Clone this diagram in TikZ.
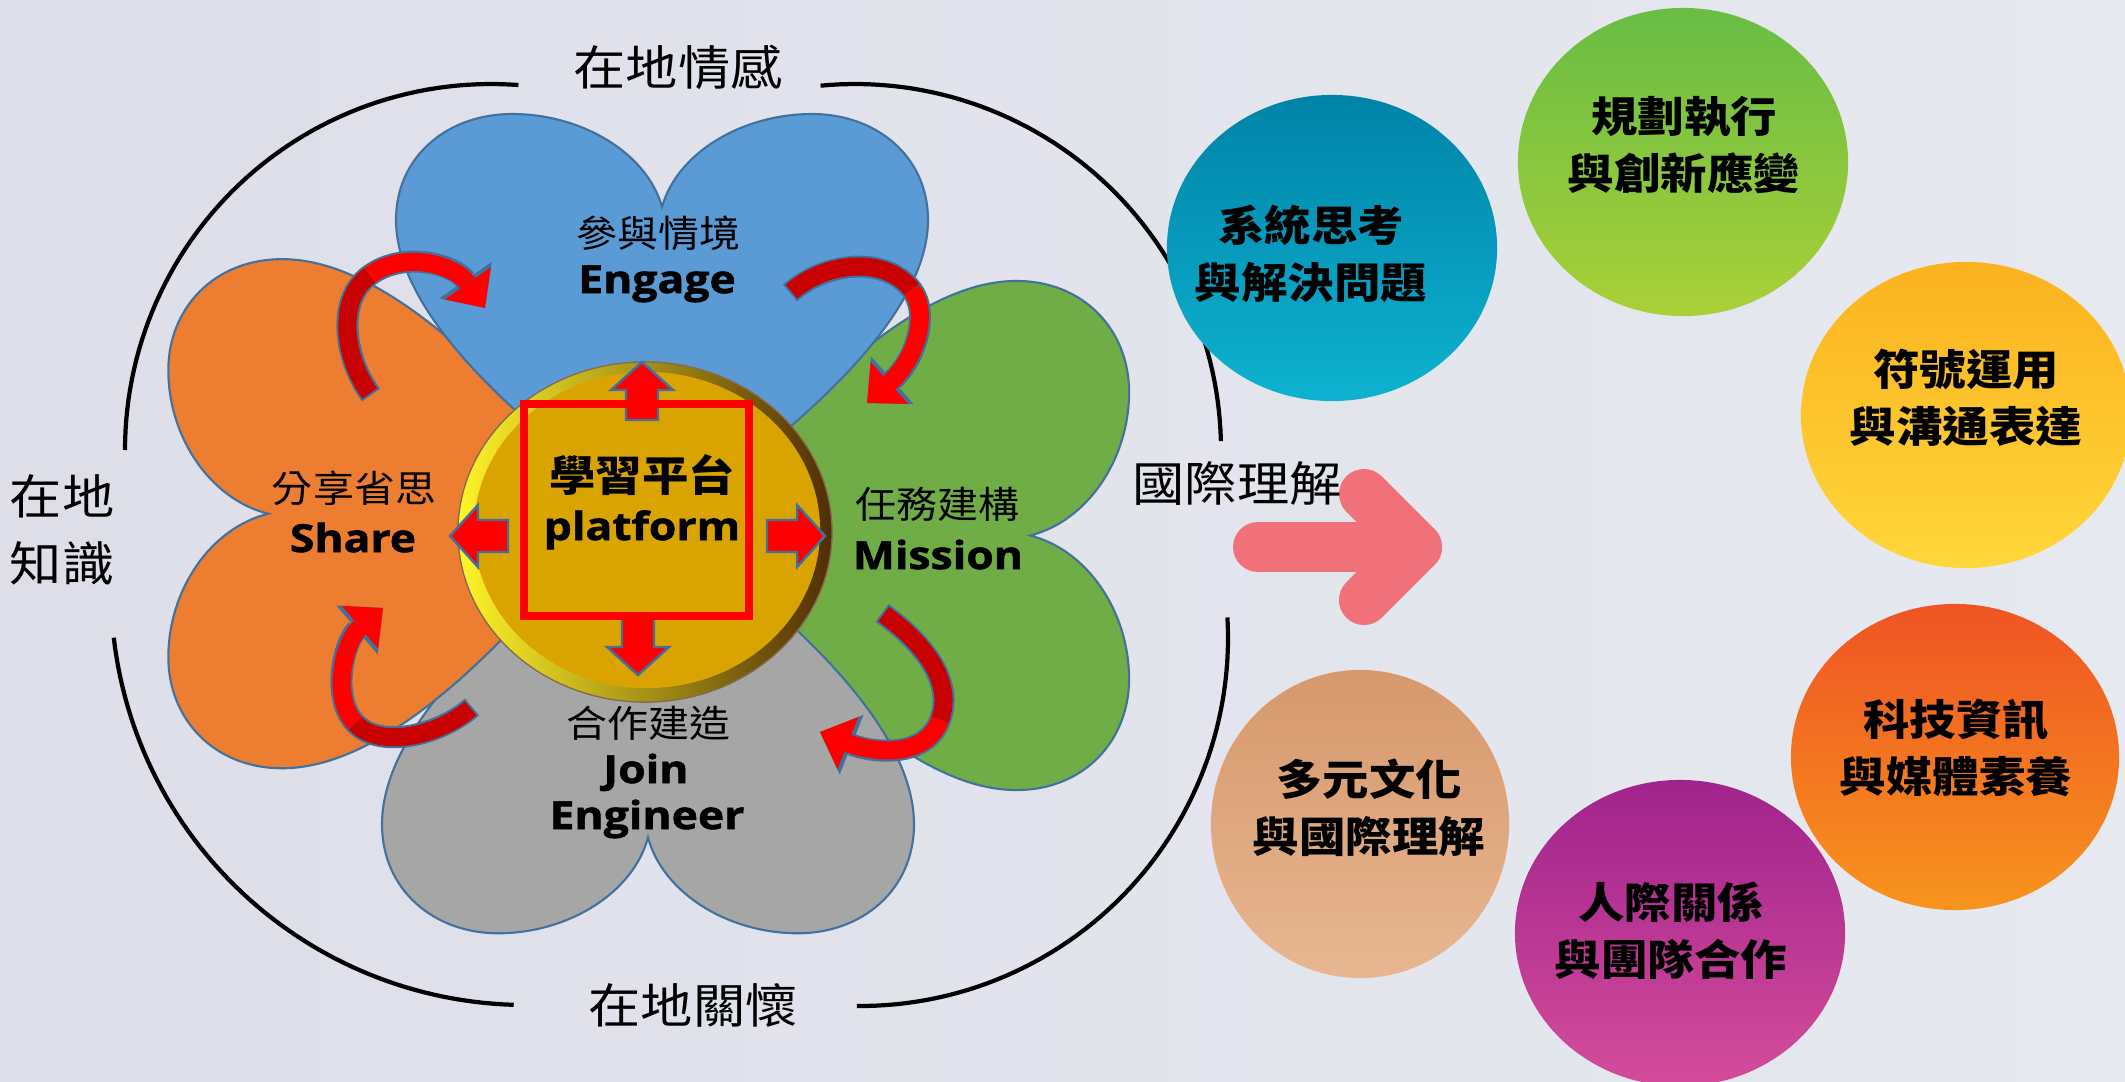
\documentclass[tikz,border=0pt]{standalone}
\usepackage{fontspec}
\usepackage{tikz}
\usetikzlibrary{shapes.geometric,arrows.meta}
\newfontfamily\zhfont{Noto Sans CJK TC}[FakeStretch=1.1]
\newfontfamily\enfont{Open Sans}[FakeStretch=1.15,BoldFeatures={FakeBold=1.5}]
\definecolor{bgleft}{RGB}{221,222,232}
\definecolor{bgright}{RGB}{231,233,240}
\definecolor{petalline}{RGB}{65,113,156}
\definecolor{petalblue}{RGB}{91,155,213}
\definecolor{petalgreen}{RGB}{112,173,71}
\definecolor{petalgray}{RGB}{166,166,166}
\definecolor{petalorange}{RGB}{237,125,49}
\definecolor{hubgold}{RGB}{218,164,0}
\definecolor{rimlight}{RGB}{255,245,40}
\definecolor{rimdark}{RGB}{80,45,5}
\definecolor{darkred}{RGB}{200,0,0}
\definecolor{pinkarrow}{RGB}{240,113,121}
\tikzstyle{ring}=[draw=black, line width=1.2pt]
\tikzstyle{petal}=[draw=petalline, line width=0.6pt]
\tikzstyle{outerlabel}=[font=\zhfont\fontsize{13.5}{19}\selectfont, inner sep=0pt, align=center]
\tikzstyle{petalzh}=[font=\zhfont\fontsize{10.6}{12}\selectfont, inner sep=0pt]
\tikzstyle{petalen}=[font=\enfont\bfseries\fontsize{11}{13}\selectfont, inner sep=0pt, anchor=base]
\tikzstyle{hubzh}=[font=\zhfont\bfseries\fontsize{12}{14}\selectfont, inner sep=0pt]
\tikzstyle{blockarr}=[fill=red, draw=petalline, line width=0.7pt]
\tikzstyle{swirlline}=[draw=petalline, line width=0.22cm, -{Triangle[length=0.34cm,width=0.64cm,line width=0pt]}]
\tikzstyle{bubble}=[ellipse, inner sep=0pt, draw=none]
\tikzstyle{bubbletext}=[font=\zhfont\bfseries\fontsize{12}{16.3}\selectfont, align=center, inner sep=0pt]
\tikzstyle{pinkline}=[draw=pinkarrow, line width=0.5cm, line cap=round, line join=round]
\newcommand{\drawpetal}[5]{%
	\filldraw[petal, fill=#5, shift={#1}, rotate=#2, xscale=#3, yscale=#4]
		(0,0) .. controls (-90,-60) and (-266,-190) .. (-266,-303)
		.. controls (-266,-367) and (-214,-409) .. (-150,-409)
		.. controls (-80,-409) and (-15,-370) .. (0,-316)
		.. controls (15,-370) and (80,-409) .. (150,-409)
		.. controls (214,-409) and (266,-367) .. (266,-303)
		.. controls (266,-190) and (90,-60) .. (0,0) -- cycle;}
\newcommand{\drawswirl}[7]{%
	\draw[swirlline] #1 .. controls #2 and #3 .. #4 .. controls #5 and #6 .. #7;
	\draw[line width=0.18cm, darkred, shorten <=0.02cm] #1 .. controls #2 and #3 .. #4;
	\draw[line width=0.18cm, red, -{Triangle[length=0.3cm,width=0.56cm,line width=0pt]}] #4 .. controls #5 and #6 .. #7;}
\newcommand{\drawblock}[2]{%
	\draw[blockarr, shift={#1}, rotate=#2] (0,0) -- (31,28) -- (16,28) -- (16,58) -- (-16,58) -- (-16,28) -- (-31,28) -- cycle;}
\begin{document}
\begin{tikzpicture}[x=0.01cm, y=-0.01cm]
				%The background
				\useasboundingbox (0,0) rectangle (2125,1081);
				\fill[left color=bgleft, right color=bgright] (0,0) rectangle (2125,1081);
				
				%The outer ring
				\draw[ring] plot[domain=180:274.3, samples=60] ({491+366*cos(\x)}, {450+366*sin(\x)});
				\draw[ring] plot[domain=264.6:358.6, samples=60] ({855+366*cos(\x)}, {450+366*sin(\x)});
				\draw[ring] plot[domain=-3.2:90.5, samples=60] ({860+368*cos(\x)}, {638+368*sin(\x)});
				\draw[ring] plot[domain=91.7:173.4, samples=60] ({526+415*cos(\x)}, {590+415*sin(\x)});
				
				\draw (678,67) node[outerlabel] (feel) {在地情感};
				\draw (62,530) node[outerlabel] (know) {在地\\知識};
				\draw (693,1006) node[outerlabel] (care) {在地關懷};
				
				%The petals
				\drawpetal{(693.5,535.5)}{-90}{0.957}{1.065}{petalgreen}
				\drawpetal{(648,512)}{180}{1}{1.03}{petalgray}
				\drawpetal{(608,513.7)}{90}{0.957}{1.075}{petalorange}
				\drawpetal{(662,523)}{0}{1}{1}{petalblue}
				
				%The turning arrows
				\drawswirl{(371,395)}{(345,360)}{(335,300)}{(370,275)}{(405,250)}{(455,265)}{(485,308)}
				\drawswirl{(790,293)}{(825,262)}{(885,255)}{(912,290)}{(930,315)}{(915,360)}{(867,403)}
				\drawswirl{(882,613)}{(920,640)}{(955,680)}{(940,720)}{(925,760)}{(870,752)}{(820,732)}
				\drawswirl{(472,707)}{(440,735)}{(380,750)}{(355,723)}{(330,696)}{(345,640)}{(383,608)}
				
				%The hub
				\draw (645,532) node[ellipse, inner sep=0pt, minimum width=3.74cm, minimum height=3.4cm, draw=rimdark!70, line width=0.4pt, left color=rimlight, middle color=hubgold, right color=rimdark] (hub) {};
				\draw (647,530) node[ellipse, inner sep=0pt, minimum width=3.46cm, minimum height=3.16cm, fill=hubgold] (hubface) {};
				\drawblock{(642,362)}{0}
				\drawblock{(638,675)}{180}
				\drawblock{(450,536)}{90}
				\drawblock{(825,536)}{-90}
				\draw (636.5,510) node[draw=red, line width=0.08cm, inner sep=0pt, minimum width=2.25cm, minimum height=2.12cm] (square) {};
				\draw (642,475) node[hubzh] (hub-zh) {學習平台};
				\draw (642,540) node[petalen] (hub-en) {platform};
				
				%The petal labels
				\draw (658,233) node[petalzh] (engage-zh) {參與情境};
				\draw (657,293) node[petalen] (engage-en) {Engage};
				\draw (354,488) node[petalzh] (share-zh) {分享省思};
				\draw (353,552) node[petalen] (share-en) {Share};
				\draw (937,504) node[petalzh] (mission-zh) {任務建構};
				\draw (938,569) node[petalen] (mission-en) {Mission};
				\draw (648,723) node[petalzh] (join-zh) {合作建造};
				\draw (646,783) node[petalen] (join-en) {Join};
				\draw (647,829) node[petalen] (engineer-en) {Engineer};
				
				%The competences
				\draw (1332,248) node[bubble, top color={rgb,255:red,0;green,131;blue,168}, bottom color={rgb,255:red,14;green,178;blue,208}, minimum width=3.3cm, minimum height=3.06cm] (systems) {};
				\draw (1683,162) node[bubble, top color={rgb,255:red,104;green,189;blue,69}, bottom color={rgb,255:red,170;green,208;blue,55}, minimum width=3.3cm, minimum height=3.08cm] (planning) {};
				\draw (1966,415) node[bubble, top color={rgb,255:red,251;green,178;blue,31}, bottom color={rgb,255:red,255;green,215;blue,58}, minimum width=3.3cm, minimum height=3.06cm] (symbols) {};
				\draw (1955,757) node[bubble, top color={rgb,255:red,239;green,84;blue,35}, bottom color={rgb,255:red,247;green,148;blue,30}, minimum width=3.28cm, minimum height=3.06cm] (media) {};
				\draw (1680,933) node[bubble, top color={rgb,255:red,160;green,35;blue,140}, bottom color={rgb,255:red,212;green,76;blue,155}, minimum width=3.3cm, minimum height=3.06cm] (teamwork) {};
				\draw (1360,824) node[bubble, top color={rgb,255:red,214;green,152;blue,108}, bottom color={rgb,255:red,231;green,183;blue,145}, minimum width=2.98cm, minimum height=3.08cm] (culture) {};
				
				\draw (1311,254) node[bubbletext] (systems-t) {系統思考\\與解決問題};
				\draw (1684,145) node[bubbletext] (planning-t) {規劃執行\\與創新應變};
				\draw (1966,398) node[bubbletext] (symbols-t) {符號運用\\與溝通表達};
				\draw (1956,748) node[bubbletext] (media-t) {科技資訊\\與媒體素養};
				\draw (1671,931) node[bubbletext] (teamwork-t) {人際關係\\與團隊合作};
				\draw (1369,808) node[bubbletext] (culture-t) {多元文化\\與國際理解};
				
				%The big arrow
				\draw[pinkline] (1258,547) -- (1417,547);
				\draw[pinkline] (1364,494) -- (1417,547) -- (1364,600);
				\draw (1237,483) node[outerlabel] (intl) {國際理解};
			\end{tikzpicture}
\end{document}
